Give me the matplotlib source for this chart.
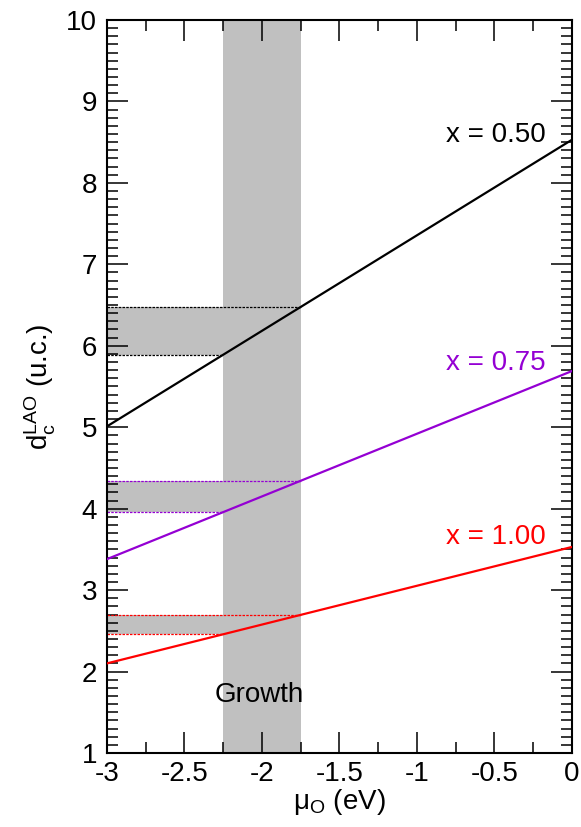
import numpy as np
import matplotlib
matplotlib.use('Agg')
import matplotlib.pyplot as plt
from matplotlib.ticker import MultipleLocator

plt.rcParams['font.family'] = ['Liberation Sans', 'DejaVu Sans']
plt.rcParams['mathtext.fontset'] = 'custom'
plt.rcParams['mathtext.rm'] = 'Liberation Sans'
plt.rcParams['mathtext.it'] = 'Liberation Sans'

# critical thickness vs oxygen chemical potential, d = d0 + slope * mu
compositions = ['0.50', '0.75', '1.00']
d_at_mu_min = [5.01, 3.38, 2.10]   # value at mu = -3 eV
d_at_mu_zero = [8.53, 5.69, 3.53]  # value at mu = 0 eV
colors = ['black', '#9400d3', 'red']
label_y = [8.50, 5.70, 3.56]

mu_range = [-3.0, 0.0]
growth_window = [-2.25, -1.75]

FS = 20


def thickness(i, mu):
  slope = (d_at_mu_zero[i] - d_at_mu_min[i]) / (mu_range[1] - mu_range[0])
  return d_at_mu_min[i] + slope * (np.asarray(mu) - mu_range[0])


fig = plt.figure(figsize=(5.81, 8.27), dpi=100)
ax = fig.add_axes([0.184, 0.0895, 0.8005, 0.8863])

ax.axvspan(growth_window[0], growth_window[1], color='#c0c0c0', lw=0, zorder=1)

for i, comp in enumerate(compositions):
  lo, hi = thickness(i, growth_window)
  ax.fill_between([mu_range[0], growth_window[1]], lo, hi, color='#c0c0c0', lw=0, zorder=1)
  ax.plot([mu_range[0], growth_window[0]], [lo, lo], color=colors[i], lw=0.9,
          ls=(0, (2, 1)), zorder=2)
  ax.plot([mu_range[0], growth_window[1]], [hi, hi], color=colors[i], lw=0.9,
          ls=(0, (2, 1)), zorder=2)
  mu = np.array(mu_range)
  ax.plot(mu, thickness(i, mu), color=colors[i], lw=1.6, zorder=3)
  ax.text(-0.168, label_y[i], 'x = %s' % comp, color=colors[i], fontsize=FS,
          ha='right', va='baseline')

ax.text(-2.02, 1.63, 'Growth', fontsize=FS, ha='center', va='baseline')

ax.set_xlim(-3, 0)
ax.set_ylim(1, 10)
ax.xaxis.set_major_locator(MultipleLocator(0.5))
ax.xaxis.set_minor_locator(MultipleLocator(0.25))
ax.yaxis.set_major_locator(MultipleLocator(1))
ax.yaxis.set_minor_locator(MultipleLocator(0.1))
ax.set_xticks(np.arange(-3, 0.01, 0.5))
ax.set_xticklabels(['-3', '-2.5', '-2', '-1.5', '-1', '-0.5', '0'])
ax.tick_params(which='both', direction='in', top=True, right=True, width=1.1,
               labelsize=FS)
ax.tick_params(which='major', length=15)
ax.tick_params(which='minor', length=8)
ax.tick_params(axis='x', pad=6)
ax.tick_params(axis='y', pad=7)
for s in ax.spines.values():
  s.set_linewidth(1.5)

ax.set_xlabel(r'$\mathrm{μ_O}$ (eV)', fontsize=FS, labelpad=0)
ax.set_ylabel(r'$\mathrm{d_c^{LAO}}$ (u.c.)', fontsize=FS, labelpad=6)

fig.savefig('out.png', dpi=100)
